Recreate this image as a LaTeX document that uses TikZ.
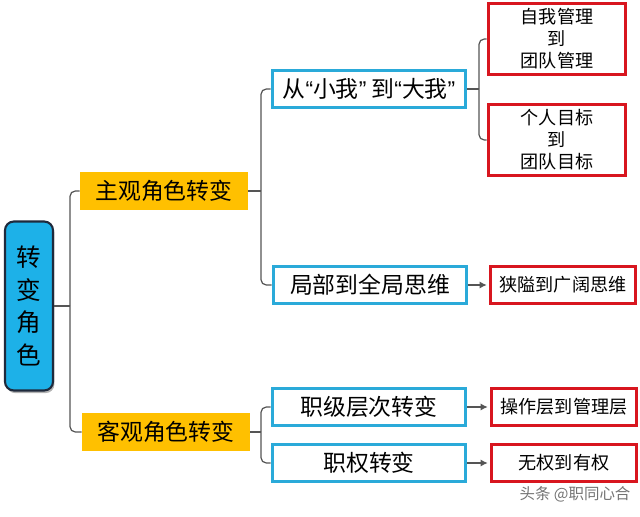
\documentclass[tikz,border=0pt]{standalone}
\usepackage{fontspec}
\setmainfont{Noto Sans CJK SC}
\newfontfamily\qfont{Liberation Sans}
\usetikzlibrary{arrows.meta,positioning,calc,shadows}
\definecolor{rootblue}{HTML}{1DB1E8}
\definecolor{rootedge}{HTML}{1F2A3C}
\definecolor{midorange}{HTML}{FFC000}
\definecolor{subblue}{HTML}{2AAAD9}
\definecolor{leafred}{HTML}{D8161F}
\definecolor{linegray}{HTML}{555555}

\begin{document}
\begin{tikzpicture}[x=0.02cm,y=-0.02cm,>=Latex,
 root/.style={draw=rootedge,line width=1.2pt,rounded corners=5pt,fill=rootblue,minimum width=0.96cm,minimum height=3.38cm,inner sep=0pt,align=center,font=\fontsize{14}{18.5}\selectfont,drop shadow={shadow xshift=0.8pt,shadow yshift=-1.5pt,opacity=0.6}},
 mid/.style={fill=midorange,minimum width=3.36cm,minimum height=0.78cm,inner sep=0pt,font=\fontsize{13}{15}\selectfont},
 sub/.style={draw=subblue,line width=1.7pt,fill=white,minimum width=3.88cm,minimum height=0.74cm,inner sep=0pt,font=\fontsize{13}{15}\selectfont},
 leaf/.style={draw=leafred,line width=1.7pt,fill=white,minimum width=2.92cm,minimum height=0.74cm,inner sep=0pt,align=center,font=\fontsize{10.3}{12.5}\selectfont},
 conn/.style={draw=linegray,line width=0.7pt,rounded corners=3pt}]
\useasboundingbox (0,0) rectangle (640,517);
\node[root] (root) at (29,306) {转\\变\\角\\色};
\node[mid] (zg) at (164,191) {主观角色转变};
\node[mid] (kg) at (166,432) {客观角色转变};
\node[sub] (xw) at (369,89) {从{\qfont“}小我{\qfont”} 到{\qfont“}大我{\qfont”}};
\node[sub] (jb) at (370,285) {局部到全局思维};
\node[sub] (zj) at (369,407) {职级层次转变};
\node[sub] (zq) at (369,463) {职权转变};
\node[leaf,minimum width=2.76cm,minimum height=1.42cm] (zt) at (557,39) {自我管理\\到\\团队管理};
\node[leaf,minimum width=2.76cm,minimum height=1.42cm] (gt) at (557,140) {个人目标\\到\\团队目标};
\node[leaf] (xk) at (563,285) {狭隘到广阔思维};
\node[leaf] (cg) at (564,407) {操作层到管理层};
\node[leaf] (wq) at (564,463) {无权到有权};
\node[text=black!55,font=\fontsize{8.8}{10}\selectfont] (wm) at (575,494) {头条 @职同心合};
\coordinate (j0) at (70,306);
\coordinate (j1) at (261,191);
\coordinate (j2) at (479,89);
\coordinate (j3) at (261,432);
\draw[conn] (root.east) -- (j0);
\draw[conn] (j0) |- (zg.west);
\draw[conn] (j0) |- (kg.west);
\draw[conn] (zg.east) -- (j1);
\draw[conn] (j1) |- (xw.west);
\draw[conn] (j1) |- (jb.west);
\draw[conn] (xw.east) -- (j2);
\draw[conn] (j2) |- (zt.west);
\draw[conn] (j2) |- (gt.west);
\draw[conn] (kg.east) -- (j3);
\draw[conn] (j3) |- (zj.west);
\draw[conn] (j3) |- (zq.west);
\foreach \a/\b in {jb/xk,zj/cg,zq/wq}
  \draw[conn,-{Latex[length=4pt,width=4pt]},shorten >=1pt] (\a.east) -- (\b.west);
\end{tikzpicture}
\end{document}
